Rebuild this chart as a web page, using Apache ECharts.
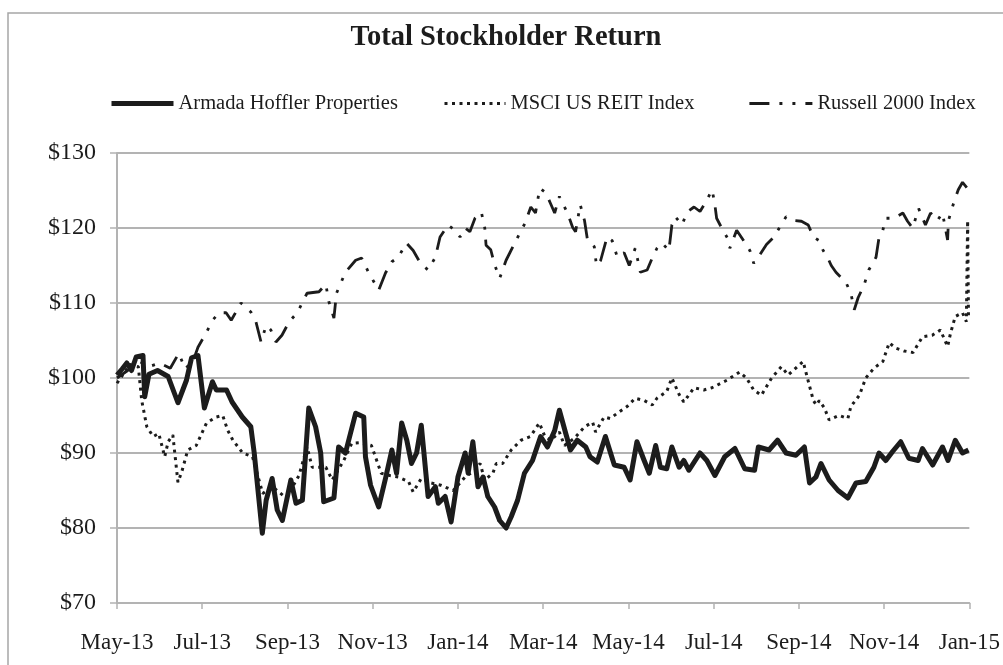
<!DOCTYPE html>
<html>
<head>
<meta charset="utf-8">
<script src="https://cdn.jsdelivr.net/npm/echarts@6/dist/echarts.min.js"></script>
<style>
  html, body { margin: 0; padding: 0; background: #fff; }
  #chart { width: 1003px; height: 665px; }
</style>
</head>
<body>
<div id="chart"></div>
<script>
// x values are months since May 1, 2013
const tickLabels = ["May-13", "Jul-13", "Sep-13", "Nov-13", "Jan-14", "Mar-14", "May-14", "Jul-14", "Sep-14", "Nov-14", "Jan-15"];
const seriesNames = ["Armada Hoffler Properties", "MSCI US REIT Index", "Russell 2000 Index"];

const ahpMonths = [0,0.12,0.23,0.34,0.45,0.61,0.65,0.75,0.95,1.2,1.43,1.63,1.75,1.9,2.05,2.24,2.33,2.57,2.7,2.94,3.14,3.22,3.41,3.5,3.64,3.76,3.88,4.08,4.2,4.35,4.5,4.66,4.78,4.85,5.09,5.2,5.36,5.6,5.79,5.83,5.95,6.14,6.3,6.45,6.56,6.68,6.8,6.91,7.03,7.14,7.3,7.47,7.54,7.7,7.84,8.0,8.17,8.24,8.35,8.47,8.59,8.7,8.86,8.98,9.13,9.25,9.4,9.56,9.75,9.94,10.1,10.27,10.38,10.53,10.64,10.8,11.0,11.1,11.27,11.46,11.67,11.9,12.04,12.2,12.37,12.49,12.64,12.75,12.9,13.02,13.19,13.3,13.42,13.68,13.84,14.03,14.26,14.5,14.73,14.96,15.05,15.3,15.5,15.7,15.93,16.13,16.25,16.4,16.52,16.71,16.92,17.15,17.34,17.57,17.76,17.88,18.04,18.2,18.39,18.58,18.8,18.9,19.14,19.37,19.5,19.67,19.84,19.98];
const ahpValues = [100.4,101.2,102,101,102.8,103,97.5,100.5,101,100.2,96.7,99.7,102.7,103,96,99.5,98.4,98.4,96.8,94.8,93.5,90,79.3,83.7,86.6,82.4,81,86.4,83.3,83.7,96,93.5,90,83.5,84,90.8,90,95.3,94.8,89.5,85.7,82.8,86.6,90.4,87.3,94,91.7,88.6,90,93.7,84.2,85.5,83.3,84.2,80.8,86.8,90,87.3,91.5,85.5,86.8,84.2,82.8,81,80,81.5,83.7,87.3,89,92.2,90.8,93,95.7,92.6,90.4,91.7,90.8,89.5,88.8,92.2,88.4,88.1,86.4,91.5,89,87.3,91,88.1,87.9,90.8,88.1,89,87.7,90,89,87,89.5,90.6,87.9,87.7,90.8,90.4,91.7,90,89.7,90.8,86,86.8,88.6,86.4,85,84,86,86.2,88.1,90,89,90.2,91.5,89.3,89,90.6,88.4,90.8,89,91.7,90,90.4];

const msciMonths = [0,0.3,0.5,0.58,0.7,0.85,0.98,1.12,1.2,1.31,1.43,1.52,1.66,1.86,2.1,2.33,2.48,2.6,2.72,2.95,3.18,3.42,3.65,3.97,4.27,4.46,4.58,4.9,5.05,5.32,5.51,5.74,5.97,6.2,6.4,6.6,6.84,6.95,7.14,7.37,7.6,7.89,8.17,8.4,8.52,8.63,8.82,8.9,9.05,9.25,9.48,9.7,9.91,10.04,10.18,10.38,10.5,10.74,10.97,11.16,11.23,11.43,11.57,11.74,11.97,12.16,12.37,12.56,12.67,12.9,13.02,13.19,13.3,13.54,13.77,13.96,14.31,14.61,14.77,14.94,15.12,15.36,15.59,15.75,16.1,16.2,16.34,16.41,16.48,16.6,16.71,16.94,17.15,17.22,17.42,17.57,17.76,17.97,18.12,18.27,18.47,18.68,18.9,19.13,19.32,19.49,19.56,19.67,19.84,19.93,19.96,19.98];
const msciValues = [99.3,101.8,101.5,97,93.5,92.2,92.6,89.5,91.5,92.4,86.1,87.5,90.4,91,94,94.8,95,93,91.7,90,89.5,84.6,85.5,84,87,90.8,88.1,88.1,86.4,89,91.3,91.4,91,87.3,87,86.8,86.2,84.8,86.6,86,85.7,85,86.8,87.7,88.6,86.4,87.3,88.6,88.6,90.4,91.7,92.2,94,92.2,91.7,92.8,91,92,93.5,94.1,92.8,94.8,94.6,95.3,96.2,97.3,97,96.4,97.3,98.2,100,97.8,96.8,98.7,98.4,98.7,99.7,100.8,100,98.4,97.7,100,101.5,100.4,102.2,100,97,96.4,97,96,94.4,95,94.6,96.2,97.7,100,101.3,102.2,104.7,104,103.6,103.4,105.5,105.7,106.4,104.2,106,108.2,108.7,107.5,121,108];

const rutMonths = [0,0.25,0.5,0.75,1.0,1.25,1.45,1.6,1.8,1.9,2.1,2.24,2.4,2.56,2.68,2.91,3.14,3.26,3.38,3.5,3.61,3.73,3.87,4.04,4.23,4.46,4.74,4.9,4.97,5.09,5.15,5.36,5.6,5.74,5.9,6.14,6.3,6.45,6.6,6.79,6.95,7.12,7.3,7.47,7.58,7.77,7.93,8.05,8.17,8.28,8.4,8.55,8.63,8.66,8.77,8.86,8.98,9.13,9.29,9.45,9.57,9.71,9.82,9.92,10.06,10.17,10.27,10.38,10.57,10.69,10.76,10.87,10.97,11.04,11.2,11.25,11.35,11.5,11.62,11.74,11.9,12.02,12.16,12.28,12.44,12.56,12.67,12.79,12.95,13.02,13.1,13.26,13.37,13.54,13.68,13.84,13.96,14.02,14.07,14.19,14.35,14.38,14.54,14.73,14.85,14.94,15.08,15.24,15.4,15.54,15.7,15.87,16.06,16.22,16.34,16.48,16.57,16.68,16.76,16.87,16.99,17.1,17.22,17.3,17.39,17.53,17.64,17.81,17.88,17.97,18.04,18.23,18.44,18.55,18.67,18.81,18.97,19.09,19.25,19.37,19.49,19.51,19.63,19.74,19.84,19.98];
const rutValues = [100,101,102.3,101.5,102,101.3,103.3,101.2,102.5,104.1,106.1,107.7,108.7,108.7,107.7,110,108.8,107.5,104.8,107,106.4,104.8,105.7,107.5,108.7,111.3,111.5,112.5,110.2,108,111.3,114.1,115.7,116,114.1,111.7,114,115.5,116.1,118,117,115.3,114.4,116.1,118.8,120.4,119.7,118.8,120,119.5,121.3,122.1,120,117.7,117.1,115.1,113.3,115.7,117.5,119.3,120.6,122.8,122,125.3,124.7,123.3,122,124.2,122,120.1,119.5,123.1,121,118.4,117.5,115,115.7,118.8,118.3,116.1,116.7,115,117.3,114.1,114.4,116,117.3,118,117,120.4,121.5,120.4,122.1,122.8,122.2,123.7,125.1,123.5,121.3,120,118.4,117.3,119.7,118.1,117,115.3,116.4,117.8,118.7,120,121.5,121,120.9,120.4,118.8,118.3,117,116,115,114.1,113.4,112.8,111.3,109.1,110.7,112.4,114.4,116.1,118.7,119.7,121.3,121.3,122,120.9,120,122.6,120.4,122,121,122,118.4,121,123.3,125.1,126.1,125.1];

const zip = (xs, ys) => xs.map((x, i) => [x, ys[i]]);

const SERIF = "'Liberation Serif', 'DejaVu Serif', serif";
const INK = "#1c1c1c";
const GRID = "#b3b3b3";

const chart = echarts.init(document.getElementById("chart"), null, { renderer: "canvas" });

function legendAt(left, name, width, lineWidth) {
  return {
    left,
    top: 93,
    padding: 0,
    itemWidth: width,
    itemHeight: 14,
    data: [name],
    selectedMode: false,
    // line-only legend keys, no point symbol
    itemStyle: { opacity: 0 },
    lineStyle: { width: lineWidth },
    textStyle: { fontFamily: SERIF, fontSize: 20.5, color: INK },
  };
}

chart.setOption({
  animation: false,
  backgroundColor: "#fff",
  graphic: [
    {
      type: "rect",
      shape: { x: 8, y: 13, width: 1100, height: 700 },
      style: { fill: null, stroke: "#a6a6a6", lineWidth: 1.5 },
      silent: true,
    },
    {
      type: "text",
      x: 506,
      y: 38,
      style: {
        text: "Total Stockholder Return",
        fontFamily: SERIF,
        fontSize: 28.5,
        fontWeight: "bold",
        fill: INK,
        textAlign: "center",
        textVerticalAlign: "middle",
      },
    },
  ],
  legend: [
    legendAt(109, seriesNames[0], 62, 5),
    legendAt(443, seriesNames[1], 61, 3),
    legendAt(748, seriesNames[2], 63, 2.8),
  ],
  grid: { left: 117, right: 29, top: 153, bottom: 62 },
  xAxis: {
    type: "value",
    min: 0,
    max: 20,
    interval: 2,
    splitLine: { show: false },
    axisLine: { lineStyle: { color: GRID, width: 2 } },
    axisTick: { show: true, length: 6, lineStyle: { color: GRID, width: 1.5 } },
    axisLabel: {
      margin: 28,
      fontFamily: SERIF,
      fontSize: 23,
      color: INK,
      formatter: (v) => tickLabels[Math.round(v / 2)] || "",
    },
  },
  yAxis: {
    type: "value",
    min: 70,
    max: 130,
    interval: 10,
    axisLine: { show: true, lineStyle: { color: GRID, width: 2 } },
    axisTick: { show: true, length: 7, lineStyle: { color: GRID, width: 1.5 } },
    splitLine: { lineStyle: { color: GRID, width: 2 } },
    axisLabel: {
      margin: 21,
      fontFamily: SERIF,
      fontSize: 24,
      color: INK,
      formatter: (v) => "$" + v,
    },
  },
  series: [
    {
      name: seriesNames[0],
      type: "line",
      symbol: "none",
      data: zip(ahpMonths, ahpValues),
      lineStyle: { color: INK, width: 5, join: "round" },
      itemStyle: { color: INK },
      z: 3,
    },
    {
      name: seriesNames[1],
      type: "line",
      symbol: "none",
      data: zip(msciMonths, msciValues),
      lineStyle: { color: INK, width: 3, type: [3, 4.5] },
      itemStyle: { color: INK },
      z: 4,
    },
    {
      name: seriesNames[2],
      type: "line",
      symbol: "none",
      data: zip(rutMonths, rutValues),
      lineStyle: { color: INK, width: 2.8, type: [20, 10, 3, 10, 3, 10] },
      itemStyle: { color: INK },
      z: 5,
    },
  ],
});
</script>
</body>
</html>
